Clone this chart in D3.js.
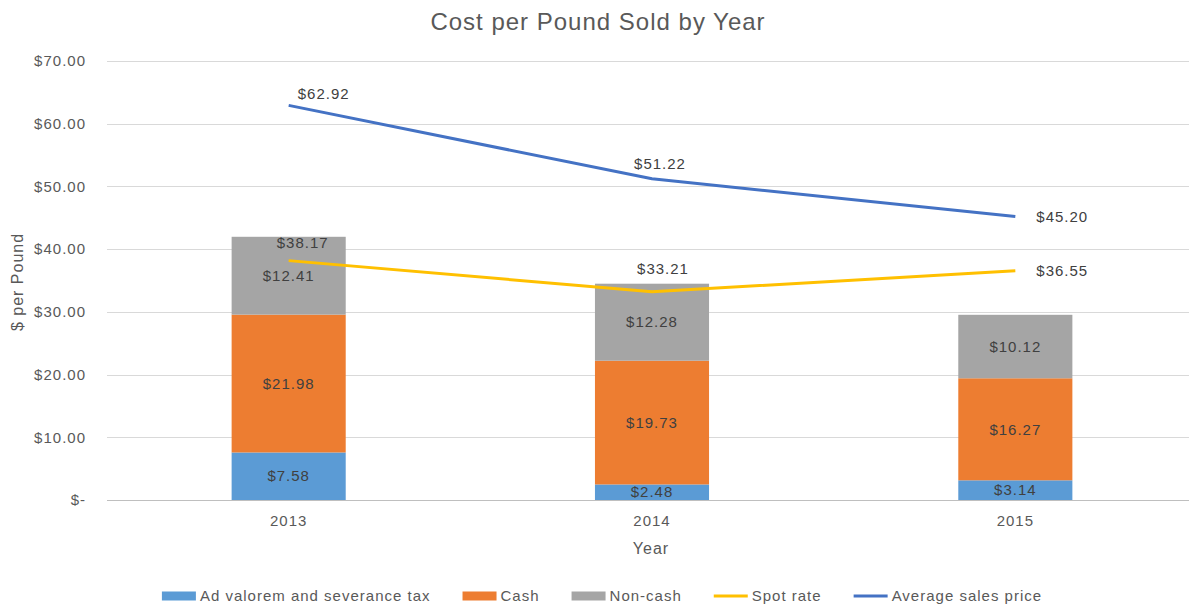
<!DOCTYPE html>
<html>
<head>
<meta charset="utf-8">
<script src="https://cdn.jsdelivr.net/npm/d3@7"></script>
<style>
  body { margin: 0; background: #fff; }
  svg text { font-family: "Liberation Sans", Arial, sans-serif; }
</style>
</head>
<body>
<script>
// Cost per Pound Sold by Year

var years = ["2013", "2014", "2015"];
var adValorem = [7.58, 2.48, 3.14];
var cash = [21.98, 19.73, 16.27];
var nonCash = [12.41, 12.28, 10.12];
var spotRate = [38.17, 33.21, 36.55];
var avgSalesPrice = [62.92, 51.22, 45.20];
var yTicks = [0, 10, 20, 30, 40, 50, 60, 70];

// label nudges for the line labels (dx, dy from the point)
var avgLabelNudge = [[35, -12], [8, -15], [21, 0]];
var spotLabelNudge = [[14, -18], [11, -23], [21, 0]];

var width = 1189, height = 608;
var margin = {top: 61, right: -8, bottom: 108, left: 107};

var svg = d3.select("body").append("svg")
  .attr("width", width)
  .attr("height", height);

var x = d3.scaleBand()
  .domain(years)
  .range([margin.left, width - margin.right])
  .paddingInner(0.686)
  .paddingOuter(0.343);

var y = d3.scaleLinear()
  .domain([0, 70])
  .range([height - margin.bottom, margin.top]);

var fmt = function(v) { return "$" + v.toFixed(2); };

// gridlines
svg.append("g")
  .selectAll("line")
  .data(yTicks)
  .enter()
  .append("line")
  .attr("x1", margin.left)
  .attr("x2", width)
  .attr("y1", function(d) { return Math.round(y(d)) + 0.5; })
  .attr("y2", function(d) { return Math.round(y(d)) + 0.5; })
  .attr("stroke", function(d) { return d == 0 ? "#bfbfbf" : "#d9d9d9"; })
  .attr("stroke-width", 1);

// y axis labels
var yAxis = svg.append("g")
  .attr("transform", "translate(86,0)")
  .call(d3.axisLeft(y).tickValues(yTicks).tickSize(0).tickPadding(0)
    .tickFormat(function(d) { return d == 0 ? "$-" : fmt(d); }));
yAxis.select(".domain").remove();
yAxis.selectAll("text")
  .style("font-size", "15px")
  .style("letter-spacing", "1px")
  .attr("fill", "#595959");

// x axis labels
var xAxis = svg.append("g")
  .attr("transform", "translate(0," + (height - margin.bottom) + ")")
  .call(d3.axisBottom(x).tickSize(0).tickPadding(15));
xAxis.select(".domain").remove();
xAxis.selectAll("text")
  .style("font-size", "15px")
  .style("letter-spacing", "1px")
  .attr("fill", "#595959");

// stacked bars
var stackData = years.map(function(yr, i) {
  return {year: yr, adValorem: adValorem[i], cash: cash[i], nonCash: nonCash[i]};
});
var keys = ["adValorem", "cash", "nonCash"];
var barColors = {adValorem: "#5b9bd5", cash: "#ed7d31", nonCash: "#a5a5a5"};
var series = d3.stack().keys(keys)(stackData);

var layers = svg.append("g")
  .selectAll("g")
  .data(series)
  .enter()
  .append("g")
  .attr("fill", function(d) { return barColors[d.key]; });

layers.selectAll("rect")
  .data(function(d) { return d; })
  .enter()
  .append("rect")
  .attr("x", function(d) { return x(d.data.year); })
  .attr("y", function(d) { return y(d[1]); })
  .attr("width", x.bandwidth())
  .attr("height", function(d) { return y(d[0]) - y(d[1]); });

layers.selectAll("text")
  .data(function(d) { return d; })
  .enter()
  .append("text")
  .attr("x", function(d) { return x(d.data.year) + x.bandwidth() / 2; })
  .attr("y", function(d) { return (y(d[0]) + y(d[1])) / 2; })
  .attr("dy", "0.35em")
  .attr("text-anchor", "middle")
  .style("font-size", "15px")
  .style("letter-spacing", "1px")
  .attr("fill", "#404040")
  .text(function(d) { return fmt(d[1] - d[0]); });

// lines
var line = d3.line()
  .x(function(d, i) { return x(years[i]) + x.bandwidth() / 2; })
  .y(function(d) { return y(d); });

function drawLine(values, color, nudge) {
  svg.append("path")
    .datum(values)
    .attr("fill", "none")
    .attr("stroke", color)
    .attr("stroke-width", 3)
    .attr("stroke-linejoin", "round")
    .attr("d", line);

  svg.append("g")
    .selectAll("text")
    .data(values)
    .enter()
    .append("text")
    .attr("x", function(d, i) { return x(years[i]) + x.bandwidth() / 2 + nudge[i][0]; })
    .attr("y", function(d, i) { return y(d) + nudge[i][1]; })
    .attr("dy", "0.35em")
    .attr("text-anchor", function(d, i) { return i == values.length - 1 ? "start" : "middle"; })
    .style("font-size", "15px")
    .style("letter-spacing", "1px")
    .attr("fill", "#404040")
    .text(function(d) { return fmt(d); });
}

drawLine(spotRate, "#ffc000", spotLabelNudge);
drawLine(avgSalesPrice, "#4472c4", avgLabelNudge);

// title
svg.append("text")
  .attr("x", 598)
  .attr("y", 22)
  .attr("dy", "0.35em")
  .attr("text-anchor", "middle")
  .style("font-size", "24px")
  .style("letter-spacing", "1px")
  .attr("fill", "#595959")
  .text("Cost per Pound Sold by Year");

// axis titles
svg.append("text")
  .attr("x", 651)
  .attr("y", 548)
  .attr("dy", "0.35em")
  .attr("text-anchor", "middle")
  .style("font-size", "16px")
  .style("letter-spacing", "1px")
  .attr("fill", "#595959")
  .text("Year");

svg.append("text")
  .attr("transform", "translate(17,282) rotate(-90)")
  .attr("dy", "0.35em")
  .attr("text-anchor", "middle")
  .style("font-size", "16px")
  .style("letter-spacing", "1px")
  .attr("fill", "#595959")
  .text("$ per Pound");

// legend
var legendItems = [
  {name: "Ad valorem and severance tax", color: "#5b9bd5", type: "rect"},
  {name: "Cash", color: "#ed7d31", type: "rect"},
  {name: "Non-cash", color: "#a5a5a5", type: "rect"},
  {name: "Spot rate", color: "#ffc000", type: "line"},
  {name: "Average sales price", color: "#4472c4", type: "line"}
];

var legend = svg.append("g");
var lx = 0;
legendItems.forEach(function(item) {
  var g = legend.append("g").attr("transform", "translate(" + lx + ",0)");
  if (item.type == "rect") {
    g.append("rect").attr("x", 0).attr("y", -4.5).attr("width", 34).attr("height", 9).attr("fill", item.color);
  } else {
    g.append("line").attr("x1", 0).attr("x2", 34).attr("y1", 0).attr("y2", 0)
      .attr("stroke", item.color).attr("stroke-width", 3);
  }
  var t = g.append("text")
    .attr("x", 38)
    .attr("dy", "0.35em")
    .style("font-size", "15px")
    .style("letter-spacing", "1px")
    .attr("fill", "#595959")
    .text(item.name);
  lx += 38 + t.node().getComputedTextLength() + 32;
});
var legendWidth = lx - 32;
legend.attr("transform", "translate(" + (602 - legendWidth / 2) + ",596)");
</script>
</body>
</html>
